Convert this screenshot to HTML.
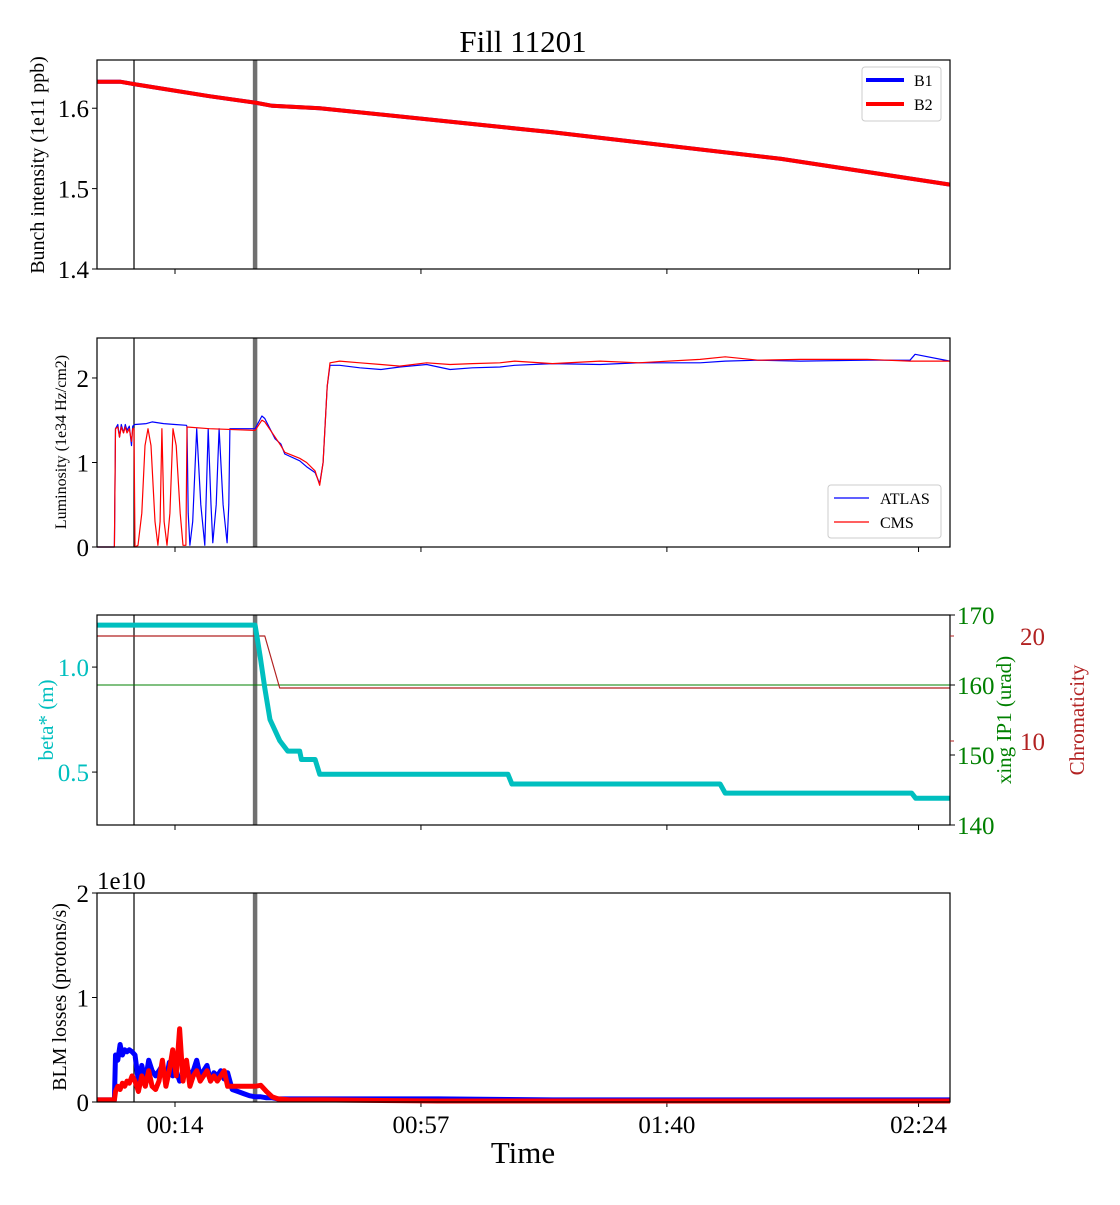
<!DOCTYPE html>
<html><head><meta charset="utf-8"><style>
body{margin:0;background:#fff;}
svg text{font-family:"Liberation Serif",serif;}
</style></head><body>
<svg id="fig" width="1120" height="1200" xmlns="http://www.w3.org/2000/svg"></svg>
<script>
// ---- data (time in minutes since 00:00) ----
const timeTicks = [14, 57, 100, 144];
const timeTickLabels = ["00:14", "00:57", "01:40", "02:24"];
const markerBlack = 6.83;
const markerGray = 28.0;

const intT  = [0.36, 4.4, 6.83, 12, 20, 28, 31, 39.3, 80, 120, 149.5];
const intB2 = [1.633, 1.633, 1.630, 1.624, 1.615, 1.607, 1.603, 1.600, 1.570, 1.537, 1.505];
const intB1 = [1.633, 1.633, 1.630, 1.624, 1.615, 1.607, 1.603, 1.600, 1.570, 1.537, 1.505];

const atlasT = [0.36,3.4,3.6,4.0,4.3,4.6,5.0,5.3,5.6,6.0,6.4,6.6,7.0,9,10,12,14,16.0,16.1,16.3,16.6,17.1,17.8,18.5,19.2,19.8,20.3,20.6,21.2,21.7,22.4,23.1,23.4,23.6,28.0,29.2,29.7,31.5,32.5,33.2,35.8,37,38.5,39.3,39.9,40.6,41.1,42.8,46.3,50,53.3,58,62.1,66,70.8,73.4,80,88.3,95,105.8,110.2,116,123.3,135,142.5,143.4,149.5];
const atlasV = [0,0,1.4,1.45,1.3,1.45,1.35,1.45,1.38,1.43,1.2,1.43,1.45,1.46,1.48,1.46,1.45,1.44,1.42,0.4,0.02,0.3,1.4,0.5,0.02,1.4,0.5,0.05,0.5,1.4,0.5,0.05,0.5,1.40,1.40,1.55,1.52,1.28,1.22,1.1,1.02,0.95,0.88,0.75,1.0,1.9,2.15,2.15,2.12,2.10,2.13,2.16,2.10,2.12,2.13,2.15,2.17,2.16,2.18,2.18,2.20,2.21,2.20,2.21,2.21,2.28,2.20];
const cmsT  = [0.36,3.4,3.6,4.0,4.3,4.6,5.0,5.3,5.6,6.0,6.4,6.6,6.83,7.0,7.53,8.2,8.75,9.28,9.8,10.5,11.0,11.4,11.7,12.1,12.6,13.1,13.65,14.2,14.9,15.4,15.9,16.1,20,28.0,29.2,29.7,31.5,32.5,33.2,35.8,37,38.5,39.3,39.9,40.6,41.1,42.8,46.3,50,53.3,58,62.1,66,70.8,73.4,80,88.3,95,105.8,110.2,116,123.3,135,142.5,143.4,149.5];
const cmsV  = [0,0,1.4,1.42,1.3,1.42,1.35,1.42,1.35,1.4,1.25,1.4,1.4,0,0.02,0.4,1.2,1.4,1.2,0.3,0.02,0.3,1.4,0.3,0.02,0.4,1.4,1.2,0.4,0.02,0.02,1.42,1.40,1.38,1.5,1.48,1.3,1.2,1.12,1.05,1.0,0.9,0.73,1.0,1.9,2.18,2.2,2.18,2.16,2.14,2.18,2.16,2.17,2.18,2.20,2.17,2.20,2.18,2.22,2.25,2.21,2.22,2.22,2.20,2.20,2.20];

const betaT = [0.36,28.0,28.9,29.7,30.6,32.3,33.7,35.8,36.1,38.5,39.3,72.2,72.9,109.3,110.2,142.8,143.5,149.5];
const betaV = [1.2,1.2,1.05,0.9,0.75,0.65,0.6,0.6,0.56,0.56,0.49,0.49,0.443,0.443,0.40,0.40,0.375,0.375];
const xingT = [0.36,149.5];
const xingV = [160,160];
const chromaT = [0.36,29.7,32.3,149.5];
const chromaV = [20,20,15.05,15.05];

const blmT  = [0.36,3.4,3.6,4.0,4.4,4.8,5.2,5.6,6.0,6.5,7.0,7.6,8.2,8.8,9.4,10.0,10.6,11.2,11.8,12.4,13.0,13.6,14.2,14.8,15.4,16.0,16.6,17.2,17.8,18.4,19.0,19.6,20.2,20.8,21.4,22.0,22.6,23.2,24.0,25.0,26.0,27.0,28.0,29.0,30.0,31.0,32.0,34.0,40,60,80,100,120,149.5];
const blmB1 = [0.02,0.02,0.45,0.40,0.55,0.45,0.50,0.48,0.50,0.48,0.45,0.20,0.35,0.20,0.40,0.30,0.25,0.30,0.35,0.20,0.38,0.25,0.30,0.20,0.25,0.35,0.25,0.30,0.40,0.25,0.30,0.35,0.20,0.28,0.25,0.30,0.22,0.28,0.12,0.10,0.08,0.06,0.05,0.05,0.04,0.04,0.03,0.03,0.03,0.03,0.02,0.02,0.02,0.02];
const blmB2 = [0.02,0.02,0.10,0.15,0.12,0.18,0.15,0.20,0.18,0.25,0.20,0.10,0.25,0.15,0.30,0.15,0.12,0.20,0.40,0.15,0.30,0.50,0.25,0.70,0.20,0.40,0.15,0.25,0.30,0.20,0.25,0.30,0.20,0.25,0.20,0.25,0.30,0.15,0.15,0.15,0.15,0.15,0.15,0.16,0.10,0.05,0.03,0.02,0.02,0.01,0.01,0.01,0.01,0.01];

// ---- layout ----
const NS = "http://www.w3.org/2000/svg";
const svg = document.getElementById('fig');
const X0 = 97, X1 = 950, TMIN = 0.36, TMAX = 149.5;
const xs = t => X0 + (t - TMIN) / (TMAX - TMIN) * (X1 - X0);
function el(tag, attrs, parent, txt){
  const e = document.createElementNS(NS, tag);
  for (const k in attrs) e.setAttribute(k, attrs[k]);
  if (txt !== undefined) e.textContent = txt;
  (parent || svg).appendChild(e);
  return e;
}
function yScale(top, bot, vmin, vmax){ return v => bot - (v - vmin) / (vmax - vmin) * (bot - top); }
function line(T, V, ys, color, w, name){
  const p = T.map((t,i)=> xs(t).toFixed(1)+','+ys(V[i]).toFixed(1)).join(' ');
  const e = el('polyline', {points:p, fill:'none', stroke:color, 'stroke-width':w, 'stroke-linejoin':'round'});
  
  
  return e;
}
function panel(top, bot, name, showLabels){
  const g = el('g', {});
  
  
  const vb = el('line', {x1:xs(markerBlack), x2:xs(markerBlack), y1:top, y2:bot, stroke:'#000', 'stroke-width':1.2}, g);
  
  
  const vg = el('line', {x1:xs(markerGray), x2:xs(markerGray), y1:top, y2:bot, stroke:'#707070', 'stroke-width':4.5}, g);
  
  
  timeTicks.forEach((t,i)=>{
    el('line', {x1:xs(t), x2:xs(t), y1:bot, y2:bot+5, stroke:'#000', 'stroke-width':1}, g);
    if (showLabels){
      const tl = el('text', {x:xs(t), y:bot+31, 'font-size':25, 'text-anchor':'middle'}, g, timeTickLabels[i]);
      
      
    }
  });
  return g;
}
function frame(top, bot){
  el('rect', {x:X0, y:top, width:X1-X0, height:bot-top, fill:'none', stroke:'#000', 'stroke-width':1.2});
}
function yTicks(vals, ys, color){
  vals.forEach(v=>{
    const y = ys(v);
    el('line', {x1:X0-5, x2:X0, y1:y, y2:y, stroke:'#000'});
    const t = el('text', {x:X0-8, y:y+9, 'font-size':25, 'text-anchor':'end', fill:color}, svg, String(v));
    
    
  });
}
function ylabel(txt, x, cy, color, fs, name){
  const t = el('text', {x:x, y:cy, 'font-size':fs, fill:color, 'text-anchor':'middle', transform:`rotate(-90 ${x} ${cy})`}, svg, txt);
  
  
}

const title = el('text', {x:523, y:52, 'font-size':31, 'text-anchor':'middle'}, svg, 'Fill 11201');



// Panel 1
{
  const top=60, bot=269, ys=yScale(top,bot,1.4,1.66);
  panel(top,bot,'intensity-panel',false);
  line(intT,intB1,ys,'#0000ff',4,'b1-intensity-line');
  line(intT,intB2,ys,'#ff0000',4,'b2-intensity-line');
  frame(top,bot);
  yTicks([1.4,1.5,1.6],ys,'#000');
  ylabel('Bunch intensity (1e11 ppb)',44,165,'#000',20,'y-axis-title-intensity');
  const lg = el('g',{});  
  el('rect',{x:862,y:67,width:79,height:54,rx:3,fill:'#fff',stroke:'#ccc'},lg);
  el('line',{x1:866,x2:904,y1:80,y2:80,stroke:'#0000ff','stroke-width':4},lg);
  el('text',{x:914,y:86,'font-size':16},lg,'B1');
  el('line',{x1:866,x2:904,y1:104,y2:104,stroke:'#ff0000','stroke-width':4},lg);
  el('text',{x:914,y:110,'font-size':16},lg,'B2');
}
// Panel 2
{
  const top=338, bot=547, ys=yScale(top,bot,0,2.473);
  panel(top,bot,'luminosity-panel',false);
  line(atlasT,atlasV,ys,'#0000ff',1.2,'atlas-lumi-line');
  line(cmsT,cmsV,ys,'#ff0000',1.2,'cms-lumi-line');
  frame(top,bot);
  yTicks([0,1,2],ys,'#000');
  ylabel('Luminosity (1e34 Hz/cm2)',66,442,'#000',16,'y-axis-title-luminosity');
  const lg = el('g',{});  
  el('rect',{x:828,y:485,width:113,height:53,rx:3,fill:'#fff',stroke:'#ccc'},lg);
  el('line',{x1:834,x2:869,y1:498,y2:498,stroke:'#0000ff','stroke-width':1.2},lg);
  el('text',{x:880,y:504,'font-size':16},lg,'ATLAS');
  el('line',{x1:834,x2:869,y1:522,y2:522,stroke:'#ff0000','stroke-width':1.2},lg);
  el('text',{x:880,y:528,'font-size':16},lg,'CMS');
}
// Panel 3
{
  const top=615, bot=825;
  const ysB=yScale(top,bot,0.248,1.248), ysX=yScale(top,bot,140,170);
  const chromaY = v => 741 - (v-10)*10.5;
  panel(top,bot,'optics-panel',false);
  line(xingT,xingV,ysX,'#008000',1,'xing-line');
  line(chromaT,chromaV,chromaY,'#b22222',1.2,'chromaticity-line');
  line(betaT,betaV,ysB,'#00bfbf',5,'beta-star-line');
  frame(top,bot);
  [0.5,1.0].forEach(v=>{
    const y=ysB(v); el('line',{x1:X0-5,x2:X0,y1:y,y2:y,stroke:'#000'});
    const t=el('text',{x:X0-8,y:y+9,'font-size':25,'text-anchor':'end',fill:'#00bfbf'},svg,v.toFixed(1));
     
  });
  [140,150,160,170].forEach(v=>{
    const y=ysX(v); el('line',{x1:X1,x2:X1+5,y1:y,y2:y,stroke:'#000'});
    const t=el('text',{x:X1+7,y:y+9,'font-size':25,fill:'#008000'},svg,String(v));
     
  });
  [10,20].forEach(v=>{
    const y=chromaY(v); el('line',{x1:X1,x2:X1+4,y1:y,y2:y,stroke:'#b22222'});
    const t=el('text',{x:1020,y:y+9,'font-size':25,fill:'#b22222'},svg,String(v));
     
  });
  ylabel('beta* (m)',53,720,'#00bfbf',21,'y-axis-title-beta');
  ylabel('xing IP1 (urad)',1011,720,'#008000',21,'y-axis-title-xing');
  ylabel('Chromaticity',1084,720,'#b22222',21,'y-axis-title-chromaticity');
}
// Panel 4
{
  const top=893, bot=1102, ys=yScale(top,bot,0,2);
  panel(top,bot,'blm-panel',true);
  line(blmT,blmB1,ys,'#0000ff',5,'b1-blm-line');
  line(blmT,blmB2,ys,'#ff0000',5,'b2-blm-line');
  frame(top,bot);
  yTicks([0,1,2],ys,'#000');
  const off=el('text',{x:97,y:889,'font-size':25},svg,'1e10');
   
  ylabel('BLM losses (protons/s)',66,997,'#000',20,'y-axis-title-blm');
  const xl=el('text',{x:523,y:1163,'font-size':31,'text-anchor':'middle'},svg,'Time');
   
}
</script>
</body></html>
